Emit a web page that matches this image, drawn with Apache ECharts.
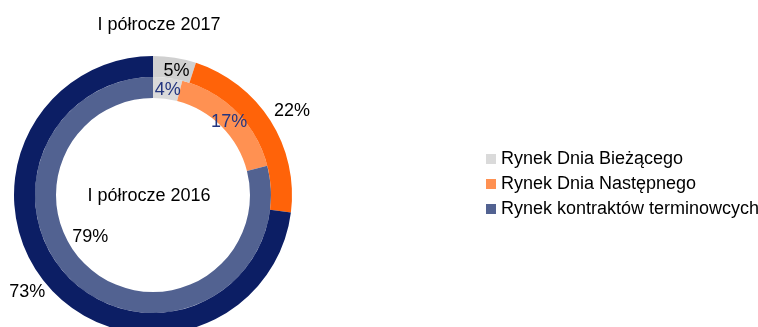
<!DOCTYPE html>
<html><head><meta charset="utf-8">
<script src="https://cdn.jsdelivr.net/npm/echarts@6/dist/echarts.min.js"></script>
<style>html,body{margin:0;padding:0;background:#fff}#c{width:758px;height:327px}</style>
</head><body><div id="c"></div>
<script>
const categories = ['Rynek Dnia Bieżącego', 'Rynek Dnia Następnego', 'Rynek kontraktów terminowcych'];
const values2016 = [4, 17, 79];
const values2017 = [5, 22, 73];
const title2017 = 'I półrocze 2017';
const title2016 = 'I półrocze 2016';

const innerColors = ['#DADADA', '#FF9152', '#526291'];
const outerColors = ['#D0D0D0', '#FF6309', '#0C1E64'];
const innerLabelColors = ['#23357F', '#23357F', '#000000'];
const innerShift = [[1, 5], [-2, 5], [5, -45]];
const outerShift = [[3, 6], [28, -14], [-27, 10]];

const font = 'Liberation Sans, Arial, sans-serif';
const chart = echarts.init(document.getElementById('c'));
chart.setOption({
  animation: false,
  title: [
    { text: title2017, left: 159, top: 16, textAlign: 'center', padding: 0,
      textStyle: { fontFamily: font, fontSize: 18, fontWeight: 'normal', color: '#000' } },
    { text: title2016, left: 149, top: 187, textAlign: 'center', padding: 0,
      textStyle: { fontFamily: font, fontSize: 18, fontWeight: 'normal', color: '#000' } }
  ],
  legend: {
    orient: 'vertical', left: 486, top: 150, padding: 0,
    itemWidth: 10, itemHeight: 10, itemGap: 7, icon: 'rect',
    textStyle: { fontFamily: font, fontSize: 18, color: '#000', lineHeight: 18 },
    data: categories
  },
  series: [
    {
      name: '2016', type: 'pie', center: [153, 195], radius: [97, 118],
      startAngle: 90, clockwise: true, silent: true,
      data: categories.map((n, i) => ({
        name: n, value: values2016[i],
        itemStyle: { color: innerColors[i] },
        label: { color: innerLabelColors[i] }
      })),
      label: { show: true, position: 'inside', formatter: '{c}%',
        fontFamily: font, fontSize: 18 },
      labelLine: { show: false },
      labelLayout: p => ({ dx: innerShift[p.dataIndex][0], dy: innerShift[p.dataIndex][1] })
    },
    {
      name: '2017', type: 'pie', center: [153, 195], radius: [118, 139],
      startAngle: 90, clockwise: true, silent: true,
      data: categories.map((n, i) => ({
        name: n, value: values2017[i],
        itemStyle: { color: outerColors[i] }
      })),
      label: { show: true, position: 'inside', formatter: '{c}%',
        fontFamily: font, fontSize: 18, color: '#000' },
      labelLine: { show: false },
      labelLayout: p => ({ dx: outerShift[p.dataIndex][0], dy: outerShift[p.dataIndex][1] })
    }
  ]
});
</script></body></html>
